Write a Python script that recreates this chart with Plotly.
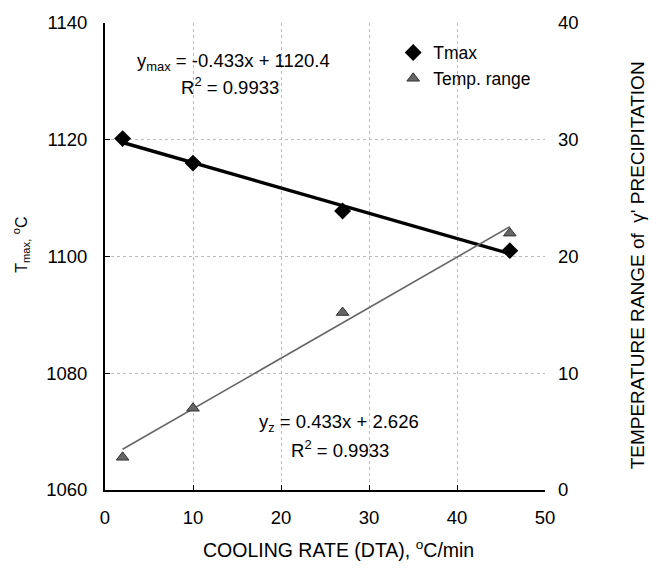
import plotly.graph_objects as go

cooling_rate = [2, 10, 27, 46]
tmax = [1120.2, 1116.0, 1107.8, 1101.0]
temp_range = [2.8, 7.0, 15.2, 22.0]

fit_tmax = (-0.433, 1120.4)
fit_range = (0.433, 2.626)
fit_x = [2, 46]

x_ticks = [0, 10, 20, 30, 40, 50]
y_ticks = [1060, 1080, 1100, 1120, 1140]
y2_ticks = [0, 10, 20, 30, 40]

FONT = "Liberation Sans, Arial, sans-serif"

fig = go.Figure()

fig.add_trace(go.Scatter(
    x=fit_x, y=[fit_tmax[0] * v + fit_tmax[1] for v in fit_x],
    mode="lines", line=dict(color="black", width=3.5), showlegend=False, hoverinfo="skip"))
fig.add_trace(go.Scatter(
    x=fit_x, y=[fit_range[0] * v + fit_range[1] for v in fit_x],
    mode="lines", line=dict(color="#666666", width=1.6), yaxis="y2",
    showlegend=False, hoverinfo="skip"))
fig.add_trace(go.Scatter(
    x=cooling_rate, y=tmax, mode="markers", name="Tmax",
    marker=dict(symbol="diamond", color="black", size=13)))
fig.add_trace(go.Scatter(
    x=cooling_rate, y=temp_range, mode="markers", name="Temp. range", yaxis="y2",
    marker=dict(symbol="triangle-up", color="#666666", size=11,
                line=dict(color="#333333", width=1))))

grid = dict(showgrid=True, gridcolor="#bbbbbb", griddash="dot", gridwidth=1)

fig.update_layout(
    width=658, height=573,
    margin=dict(l=105, r=113, t=17, b=83),
    plot_bgcolor="white", paper_bgcolor="white",
    font=dict(family=FONT, size=18, color="black"),
    xaxis=dict(range=[0, 50], tickvals=x_ticks, showline=True, linecolor="black", linewidth=2,
               ticks="inside", ticklen=5, tickcolor="black", zeroline=False,
               tickfont=dict(size=18.5), ticklabelstandoff=10,
               **grid),
    yaxis=dict(range=[1060, 1140], tickvals=y_ticks, showline=True, linecolor="black", linewidth=2,
               ticks="inside", ticklen=5, tickcolor="black", zeroline=False,
               tickfont=dict(size=18.5), ticklabelstandoff=12,
               **grid),
    yaxis2=dict(range=[0, 40], tickvals=y2_ticks, overlaying="y", side="right", showgrid=False,
                showline=False, zeroline=False, tickfont=dict(size=18.5), ticklabelstandoff=12),
    legend=dict(x=0.655, y=0.975, xanchor="left", yanchor="top", bgcolor="rgba(0,0,0,0)",
                font=dict(size=17.5), itemwidth=30, tracegroupgap=0),
)

fig.add_annotation(xref="paper", yref="paper", x=0.53, y=-0.127, showarrow=False,
                   xanchor="center", yanchor="middle",
                   text="COOLING RATE (DTA), <sup>o</sup>C/min", font=dict(size=19.5))
fig.add_annotation(xref="paper", yref="paper", x=-0.191, y=0.525, showarrow=False,
                   xanchor="center", yanchor="middle", textangle=-90,
                   text="T<sub>max,</sub> <sup>o</sup>C", font=dict(size=16))
fig.add_annotation(xref="paper", yref="paper", x=1.209, y=0.481, showarrow=False,
                   xanchor="center", yanchor="middle", textangle=-90,
                   text="TEMPERATURE RANGE of  γ' PRECIPITATION", font=dict(size=19))

fig.add_annotation(xref="paper", yref="paper", x=0.293, y=0.917, showarrow=False,
                   xanchor="center", yanchor="middle",
                   text="y<sub>max</sub> = -0.433x + 1120.4", font=dict(size=18.5))
fig.add_annotation(xref="paper", yref="paper", x=0.285, y=0.866, showarrow=False,
                   xanchor="center", yanchor="middle",
                   text="R<sup>2</sup> = 0.9933", font=dict(size=18.5))
fig.add_annotation(xref="paper", yref="paper", x=0.532, y=0.144, showarrow=False,
                   xanchor="center", yanchor="middle",
                   text="y<sub>z</sub> = 0.433x + 2.626", font=dict(size=18.5))
fig.add_annotation(xref="paper", yref="paper", x=0.535, y=0.087, showarrow=False,
                   xanchor="center", yanchor="middle",
                   text="R<sup>2</sup> = 0.9933", font=dict(size=18.5))

fig.write_html("out.html")
